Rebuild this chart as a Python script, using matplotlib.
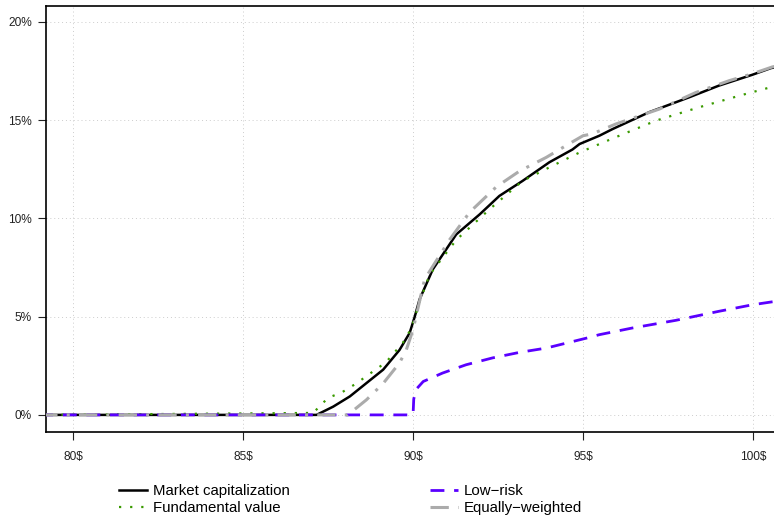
import matplotlib
matplotlib.use("Agg")
import matplotlib.pyplot as plt
from matplotlib.ticker import FixedLocator

plt.rcParams['font.family'] = ['Liberation Sans', 'DejaVu Sans']

# price level ($) vs. percentage of portfolio
mc_x = [79.0, 87.16, 87.65, 88.14, 88.63, 89.12, 89.6, 89.9, 90.05, 90.19, 90.58, 91.27,
        91.96, 92.54, 93.22, 94.01, 94.69, 94.9, 95.48, 95.87, 96.95, 98.13, 99.0, 99.98, 100.53, 100.7]
mc_y = [0.0, 0.0, 0.42, 0.94, 1.62, 2.3, 3.3, 4.17, 5.0, 5.87, 7.4, 9.18,
        10.2, 11.14, 11.9, 12.85, 13.5, 13.78, 14.2, 14.54, 15.4, 16.16, 16.75, 17.3, 17.64, 17.7]

fv_x = [79.0, 87.06, 87.5, 87.9, 88.33, 88.78, 89.2, 89.7, 89.95, 90.2, 90.49, 91.27,
        92.25, 93.22, 94.1, 94.9, 95.87, 97.15, 98.42, 99.69, 100.53, 100.7]
fv_y = [0.0, 0.1, 0.87, 1.14, 1.6, 2.16, 2.67, 3.67, 4.4, 5.8, 7.14, 8.9,
        10.46, 11.9, 12.67, 13.35, 14.06, 14.97, 15.65, 16.28, 16.67, 16.72]

lr_x = [79.0, 90.0, 90.02, 90.08, 90.3, 90.87, 91.56, 92.34, 93.13, 93.92, 95.09, 95.48,
        96.45, 97.73, 99.0, 99.98, 100.56, 100.7]
lr_y = [0.0, 0.0, 0.8, 1.28, 1.7, 2.13, 2.55, 2.9, 3.18, 3.4, 3.9, 4.08,
        4.42, 4.81, 5.27, 5.6, 5.75, 5.78]

ew_x = [79.0, 88.08, 88.63, 89.12, 89.6, 89.8, 90.0, 90.34, 91.07, 91.66, 92.45, 93.13,
        93.92, 94.6, 95.0, 95.28, 95.97, 97.25, 98.32, 99.3, 99.98, 100.57, 100.7]
ew_y = [0.0, 0.0, 0.77, 1.6, 2.64, 3.3, 4.34, 6.9, 8.9, 10.3, 11.6, 12.4,
        13.1, 13.8, 14.2, 14.3, 14.8, 15.56, 16.4, 17.0, 17.35, 17.7, 17.75]

x_ticks = [80, 85, 90, 95, 100]
x_labels = ['80$', '85$', '90$', '95$', '100$']
y_ticks = [0, 5, 10, 15, 20]
y_labels = ['0%', '5%', '10%', '15%', '20%']

fig = plt.figure(figsize=(7.74, 5.15), dpi=100)
ax = fig.add_axes([46/774, 83/515, 728/774, 426/515])

l1, = ax.plot(mc_x, mc_y, color='black', lw=1.8, zorder=3)
l2, = ax.plot(fv_x, fv_y, color='#3a9a00', lw=1.6, linestyle=(0, (1, 4)), zorder=4)
l3, = ax.plot(lr_x, lr_y, color='#5a00ff', lw=2.0, linestyle=(0, (5, 3.5)), zorder=5)
l4, = ax.plot(ew_x, ew_y, color='#ababab', lw=2.2, linestyle=(0, (6, 3, 1, 3)), zorder=6)

ax.set_xlim(79.2, 100.62)
ax.set_ylim(-0.87, 20.8)
ax.xaxis.set_major_locator(FixedLocator(x_ticks))
ax.yaxis.set_major_locator(FixedLocator(y_ticks))
ax.set_xticklabels(x_labels)
ax.set_yticklabels(y_labels)
ax.tick_params(axis='both', direction='out', length=5.5, width=0.8, labelsize=8.6,
               colors='#222222')
ax.tick_params(axis='x', pad=8)
ax.tick_params(axis='y', pad=4.5)
ax.grid(True, color='#cccccc', linestyle=(0, (1, 3)), lw=0.7)
ax.set_axisbelow(True)
for s in ['top', 'left', 'bottom']:
    ax.spines[s].set_linewidth(1.2)
ax.spines['right'].set_visible(False)

leg_kw = dict(frameon=False, fontsize=10.8, handlelength=1.85, handletextpad=0.4,
              labelspacing=0.2, borderaxespad=0, borderpad=0)
fig.legend([l1, l2], ['Market capitalization', 'Fundamental value'],
           loc='upper left', bbox_to_anchor=(119/774, 1 - 484/515), **leg_kw)
fig.legend([l3, l4], ['Low\u2212risk', 'Equally\u2212weighted'],
           loc='upper left', bbox_to_anchor=(430/774, 1 - 484/515), **leg_kw)

fig.savefig('out.png', dpi=100)
